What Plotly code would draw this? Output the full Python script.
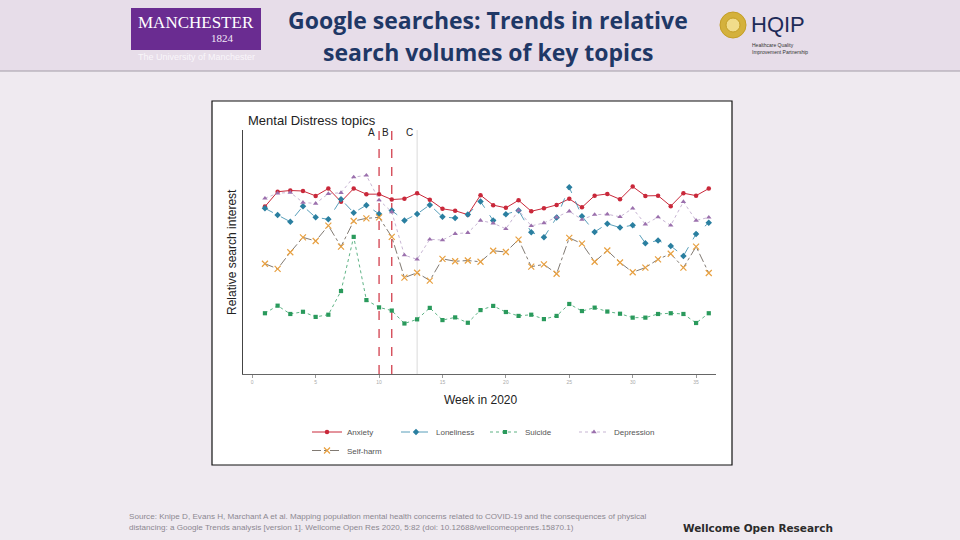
import plotly.graph_objects as go

# ---------------- data ----------------
weeks = list(range(1, 37))

anxiety = [68.6, 74.7, 75.2, 75.0, 73.0, 76.0, 70.6, 76.0, 73.7, 73.7, 71.5, 71.8,
           74.1, 71.4, 67.7, 66.9, 65.3, 73.3, 69.2, 68.1, 71.2, 66.7, 67.9, 69.3,
           71.8, 68.3, 73.1, 73.8, 71.6, 76.8, 73.0, 73.1, 68.8, 74.1, 73.1, 76.0]

loneliness = [67.9, 65.2, 62.4, 68.8, 64.2, 63.4, 71.6, 66.1, 69.2, 65.6, 67.0, 62.9,
              65.6, 69.3, 64.4, 63.9, 65.4, 70.7, 62.9, 65.5, 67.0, 58.1, 56.0, 64.1,
              76.5, 64.7, 58.2, 61.6, 60.0, 61.0, 53.6, 54.7, 52.5, 48.4, 57.4, 62.0]

suicide = [24.9, 28.0, 24.6, 25.5, 23.4, 24.3, 34.0, 56.2, 30.3, 27.3, 26.0, 20.7,
           22.4, 27.1, 22.1, 23.2, 21.0, 26.2, 27.9, 25.4, 23.8, 24.3, 22.5, 23.8,
           28.7, 25.8, 27.2, 25.6, 24.7, 23.1, 23.1, 24.6, 24.9, 24.6, 20.9, 24.9]

depression = [72.0, 74.1, 74.4, 70.3, 69.9, 73.9, 74.3, 80.7, 81.4, 71.3, 66.4, 48.7,
              47.0, 55.2, 54.9, 57.5, 57.9, 62.9, 61.8, 59.5, 67.1, 60.7, 61.9, 64.2,
              66.7, 63.3, 65.3, 65.5, 64.4, 67.9, 61.4, 64.3, 60.9, 70.6, 62.9, 64.2]

self_harm = [45.2, 43.1, 49.9, 56.0, 54.5, 60.8, 52.2, 62.7, 63.8, 64.2, 56.2, 39.5,
             41.5, 38.3, 47.2, 46.2, 46.5, 46.0, 50.5, 50.0, 55.1, 44.0, 44.9, 41.1,
             55.8, 53.4, 46.0, 50.6, 45.7, 41.7, 43.6, 47.0, 49.3, 43.6, 52.2, 41.4]

x_ticks = [0, 5, 10, 15, 20, 25, 30, 35]
event_weeks = [10, 11, 13]
event_labels = ["A", "B", "C"]

# ---------------- helpers for slide layout (pixel -> paper) ----------------
W, H = 960, 540
def px(x):
    return x / W
def py(y):
    return 1 - y / H

fig = go.Figure()

series = [
    ("Anxiety", anxiety, dict(color="#c9283a", width=1.0, dash="solid"),
     dict(symbol="circle", size=4.5, color="#c9283a"), "legend"),
    ("Loneliness", loneliness, dict(color="#2f86a8", width=0.8, dash="dash"),
     dict(symbol="diamond", size=5, color="#2a7fa0"), "legend"),
    ("Suicide", suicide, dict(color="#35a066", width=0.8, dash="dot"),
     dict(symbol="square", size=4.2, color="#2a9a5c"), "legend"),
    ("Depression", depression, dict(color="#b9a2c8", width=0.8, dash="dot"),
     dict(symbol="triangle-up", size=4.8, color="#9b70ad"), "legend"),
    ("Self-harm", self_harm, dict(color="#4a4036", width=0.7, dash="dashdot"),
     dict(symbol="x-thin-open", size=6, color="#e8a040",
          line=dict(color="#e8a040", width=1.2)), "legend2"),
]

for name, vals, line, marker, lg in series:
    fig.add_trace(go.Scatter(
        x=weeks, y=vals, name=name, mode="lines+markers",
        line=line, marker=marker, legend=lg, showlegend=True,
        hoverinfo="skip"))

shapes = []
# header band and separator
shapes.append(dict(type="rect", xref="paper", yref="paper",
                   x0=0, x1=1, y0=py(71), y1=1, fillcolor="#e7dde9",
                   line=dict(width=0), layer="below"))
shapes.append(dict(type="line", xref="paper", yref="paper",
                   x0=0, x1=1, y0=py(71), y1=py(71),
                   line=dict(color="#a29ca6", width=1), layer="below"))
# white image box
shapes.append(dict(type="rect", xref="paper", yref="paper",
                   x0=px(212), x1=px(732), y0=py(465), y1=py(101),
                   fillcolor="white", line=dict(color="#111", width=1.2),
                   layer="below"))
# Manchester logo block
shapes.append(dict(type="rect", xref="paper", yref="paper",
                   x0=px(131), x1=px(261), y0=py(50), y1=py(8),
                   fillcolor="#6a2c91", line=dict(width=0), layer="below"))
# HQIP circle logo
shapes.append(dict(type="circle", xref="paper", yref="paper",
                   x0=px(720), x1=px(746), y0=py(38), y1=py(12),
                   fillcolor="#d4b13c", line=dict(color="#c49e26", width=1)))
shapes.append(dict(type="circle", xref="paper", yref="paper",
                   x0=px(726), x1=px(740), y0=py(32), y1=py(18),
                   fillcolor="#f1dc8a", line=dict(color="#c49e26", width=1)))

# event lines
for wk, lab in zip(event_weeks, event_labels):
    if lab == "C":
        ln = dict(color="#dadada", width=1, dash="solid")
    else:
        ln = dict(color="#d2404e", width=1.3, dash="dash")
    shapes.append(dict(type="line", xref="x", yref="y", x0=wk, x1=wk,
                       y0=0, y1=100, line=ln, layer="below"))

annotations = []
# slide title
annotations.append(dict(text="<b>Google searches: Trends in relative</b>",
                        x=px(488), y=py(20), xref="paper", yref="paper",
                        showarrow=False, xanchor="center", yanchor="middle",
                        font=dict(family="Open Sans", size=23, color="#1f3866")))
annotations.append(dict(text="<b>search volumes of key topics</b>",
                        x=px(488), y=py(52), xref="paper", yref="paper",
                        showarrow=False, xanchor="center", yanchor="middle",
                        font=dict(family="Open Sans", size=23, color="#1f3866")))
# Manchester logo texts
annotations.append(dict(text="MANCHESTER", x=px(196), y=py(22), xref="paper",
                        yref="paper", showarrow=False, xanchor="center",
                        yanchor="middle",
                        font=dict(family="Liberation Serif", size=17, color="white")))
annotations.append(dict(text="1824", x=px(222), y=py(38), xref="paper",
                        yref="paper", showarrow=False, xanchor="center",
                        yanchor="middle",
                        font=dict(family="Liberation Serif", size=11, color="#f3e9f7")))
annotations.append(dict(text="The University of Manchester", x=px(196), y=py(57),
                        xref="paper", yref="paper", showarrow=False,
                        xanchor="center", yanchor="middle",
                        font=dict(family="Liberation Sans", size=9, color="#f9f6fa")))
# HQIP
annotations.append(dict(text="HQIP", x=px(749), y=py(25), xref="paper",
                        yref="paper", showarrow=False, xanchor="left",
                        yanchor="middle",
                        font=dict(family="Liberation Sans", size=22, color="#1e2b58")))
annotations.append(dict(text="Healthcare Quality<br>Improvement Partnership",
                        x=px(750), y=py(48), xref="paper", yref="paper",
                        showarrow=False, xanchor="left", yanchor="middle",
                        align="left",
                        font=dict(family="Liberation Sans", size=5, color="#333")))
# chart texts
annotations.append(dict(text="Mental Distress topics", x=px(246), y=py(120),
                        xref="paper", yref="paper", showarrow=False,
                        xanchor="left", yanchor="middle",
                        font=dict(family="Liberation Sans", size=13, color="#222")))
annotations.append(dict(text="Relative search interest", x=px(232), y=py(252),
                        xref="paper", yref="paper", showarrow=False,
                        textangle=-90, xanchor="center", yanchor="middle",
                        font=dict(family="Liberation Sans", size=12, color="#222")))
annotations.append(dict(text="Week in 2020", x=px(480), y=py(400),
                        xref="paper", yref="paper", showarrow=False,
                        xanchor="center", yanchor="middle",
                        font=dict(family="Liberation Sans", size=12, color="#222")))
label_shift = {"A": -8, "B": -6, "C": -8}
for wk, lab in zip(event_weeks, event_labels):
    annotations.append(dict(text=lab, x=wk, xref="x", y=py(132), yref="paper",
                            xshift=label_shift[lab], showarrow=False,
                            xanchor="center", yanchor="middle",
                            font=dict(family="Liberation Sans", size=10, color="#222")))
# footer
annotations.append(dict(
    text=("Source: Knipe D, Evans H, Marchant A et al. Mapping population mental health concerns "
          "related to COVID-19 and the consequences of physical<br>distancing: a Google Trends "
          "analysis [version 1]. Wellcome Open Res 2020, 5:82 (doi: 10.12688/wellcomeopenres.15870.1)"),
    x=px(127), y=py(522), xref="paper", yref="paper", showarrow=False,
    xanchor="left", yanchor="middle", align="left",
    font=dict(family="Liberation Sans", size=8.1, color="#8c8890")))
annotations.append(dict(text="<b>Wellcome Open Research</b>", x=px(681), y=py(528),
                        xref="paper", yref="paper", showarrow=False,
                        xanchor="left", yanchor="middle",
                        font=dict(family="DejaVu Sans", size=10.5, color="#2b2b2b")))

legend_common = dict(orientation="h", xanchor="left", yanchor="middle",
                     bgcolor="rgba(0,0,0,0)", entrywidth=44,
                     entrywidthmode="pixels", itemwidth=30,
                     font=dict(family="Liberation Sans", size=8, color="#555"))

fig.update_layout(
    width=W, height=H,
    margin=dict(l=0, r=0, t=0, b=0),
    paper_bgcolor="#efeaf0",
    plot_bgcolor="rgba(0,0,0,0)",
    shapes=shapes,
    annotations=annotations,
    legend=dict(x=px(307), y=py(432), **legend_common),
    legend2=dict(x=px(307), y=py(450.5), **legend_common),
    xaxis=dict(domain=[px(243), px(716)], range=[-0.73, 36.57],
               showline=True, linecolor="#666", linewidth=1,
               ticks="outside", ticklen=3, tickcolor="#999",
               tickvals=x_ticks, ticktext=[str(t) for t in x_ticks],
               tickfont=dict(family="Liberation Sans", size=5, color="#aaa"),
               showgrid=False, zeroline=False, fixedrange=True),
    yaxis=dict(domain=[py(374), py(130)], range=[0, 100],
               showline=True, linecolor="#444", linewidth=1,
               showticklabels=False, ticks="", showgrid=False,
               zeroline=False, fixedrange=True),
)

fig.write_html("out.html", config={"displayModeBar": False},
               post_script="document.body.style.margin='0';document.body.style.overflow='hidden';")
